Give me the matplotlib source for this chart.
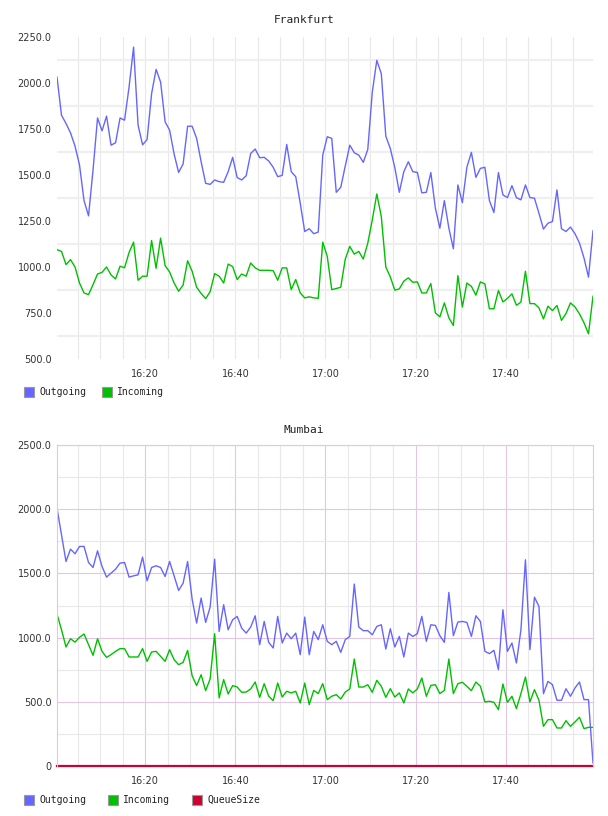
import numpy as np
import pandas as pd
import matplotlib
matplotlib.use('Agg')
import matplotlib.pyplot as plt
import matplotlib.dates as mdates
from matplotlib.ticker import FixedLocator, FuncFormatter
from matplotlib.patches import Rectangle

# one sample per minute, 16:00 -> 18:00
times = pd.date_range('2024-01-01 16:00:24', periods=120, freq='60s')

fra_outgoing = [
    2032, 1825, 1780, 1729, 1657, 1554, 1361, 1278, 1527, 1810,
    1740, 1820, 1662, 1675, 1810, 1798, 1978, 2195, 1771, 1664,
    1693, 1942, 2074, 2005, 1789, 1744, 1614, 1514, 1560, 1765,
    1765, 1699, 1572, 1455, 1449, 1473, 1464, 1460, 1518, 1596,
    1486, 1473, 1496, 1617, 1641, 1594, 1596, 1576, 1542, 1491,
    1498, 1666, 1518, 1491, 1347, 1193, 1208, 1181, 1190, 1608,
    1708, 1699, 1406, 1433, 1549, 1662, 1621, 1608, 1569, 1639,
    1951, 2123, 2051, 1711, 1644, 1540, 1406, 1518, 1572, 1518,
    1514, 1403, 1406, 1513, 1320, 1211, 1361, 1211, 1099, 1446,
    1350, 1542, 1623, 1487, 1536, 1542, 1361, 1296, 1513, 1392,
    1377, 1442, 1377, 1365, 1446, 1377, 1374, 1292, 1206, 1238,
    1247, 1419, 1208, 1193, 1217, 1181, 1130, 1049, 945, 1197,
]
fra_incoming = [
    1094, 1085, 1013, 1040, 1000, 913, 859, 850, 904, 962,
    971, 1000, 957, 935, 1004, 996, 1079, 1135, 928, 950,
    950, 1144, 993, 1157, 1008, 973, 913, 868, 902, 1034,
    977, 890, 856, 828, 866, 964, 950, 913, 1016, 1002,
    932, 962, 950, 1022, 995, 982, 982, 982, 980, 928,
    995, 995, 877, 932, 859, 832, 838, 832, 830, 1135,
    1058, 877, 883, 890, 1043, 1112, 1070, 1085, 1043, 1130,
    1256, 1397, 1274, 1000, 946, 874, 881, 923, 941, 917,
    919, 859, 859, 910, 751, 729, 805, 724, 682, 953,
    783, 913, 895, 847, 919, 908, 773, 773, 872, 810,
    829, 854, 792, 809, 977, 801, 801, 778, 718, 787,
    763, 791, 710, 747, 805, 783, 745, 697, 637, 841,
]

mum_outgoing = [
    2008, 1800, 1593, 1689, 1653, 1710, 1710, 1585, 1546, 1676,
    1554, 1471, 1502, 1533, 1580, 1585, 1471, 1481, 1489, 1627,
    1442, 1546, 1559, 1546, 1476, 1593, 1481, 1367, 1424, 1593,
    1300, 1113, 1308, 1118, 1238, 1611, 1048, 1256, 1061, 1139,
    1165, 1074, 1035, 1082, 1170, 945, 1126, 963, 919, 1165,
    958, 1035, 991, 1035, 867, 1160, 867, 1048, 984, 1100,
    971, 945, 971, 885, 984, 1009, 1417, 1082, 1054, 1054,
    1022, 1087, 1100, 911, 1069, 927, 1009, 849, 1035, 1009,
    1030, 1165, 971, 1100, 1095, 1015, 963, 1352, 1015, 1121,
    1126, 1118, 1009, 1170, 1126, 893, 875, 901, 750, 1217,
    893, 958, 802, 1061, 1606, 906, 1315, 1243, 563, 659,
    633, 512, 512, 602, 543, 608, 654, 517, 517, 24,
]
mum_incoming = [
    1183, 1061, 927, 991, 965, 1002, 1028, 945, 862, 991,
    893, 846, 867, 893, 914, 914, 849, 849, 849, 914,
    815, 888, 893, 854, 815, 906, 828, 789, 807, 900,
    703, 626, 711, 587, 678, 1030, 530, 673, 561, 626,
    615, 574, 576, 600, 654, 535, 641, 543, 509, 646,
    537, 582, 569, 582, 491, 646, 478, 589, 564, 641,
    517, 543, 556, 522, 576, 600, 833, 615, 615, 633,
    574, 667, 621, 535, 602, 537, 569, 491, 600, 569,
    600, 685, 543, 628, 633, 564, 589, 833, 564, 641,
    652, 621, 587, 654, 621, 499, 504, 496, 439, 639,
    496, 543, 447, 564, 693, 499, 595, 512, 309, 361,
    361, 296, 296, 353, 309, 343, 379, 291, 301, 301,
]
mum_queue = [0] * 120

BLUE = '#6666ff'
GREEN = '#00c000'
RED = '#cc0033'
GRID = '#e8e8e8'
PINK = '#e2c6e2'
TXT = '#333333'

fig = plt.figure(figsize=(6.08, 8.16), dpi=100)
W, H = 608.0, 816.0


def box(l, t, r, b):
    return [l / W, 1 - b / H, (r - l) / W, (b - t) / H]


def style(ax, yfmt):
    ax.set_xlim(times[0], times[-1])
    ax.xaxis.set_major_locator(mdates.MinuteLocator(byminute=[0, 20, 40]))
    ax.xaxis.set_minor_locator(mdates.MinuteLocator(byminute=range(0, 60, 5)))
    ax.xaxis.set_major_formatter(mdates.DateFormatter('%H:%M'))
    ax.yaxis.set_major_formatter(FuncFormatter(yfmt))
    ax.tick_params(which='both', length=0, labelsize=7, labelcolor=TXT)
    ax.tick_params(axis='x', pad=7)
    ax.tick_params(axis='y', pad=4)
    ax.set_axisbelow(True)


def legend(y, items):
    for x, color, name in items:
        fig.add_artist(Rectangle((x / W, 1 - (y + 5) / H), 10 / W, 10 / H,
                                 transform=fig.transFigure, facecolor=color,
                                 edgecolor='#999999', lw=0.8))
        fig.text((x + 15) / W, 1 - y / H, name, family='DejaVu Sans Mono',
                 fontsize=7, color='#222222', va='center')


# Frankfurt
ax1 = fig.add_axes(box(57, 37, 593, 359))
ax1.plot(times, fra_outgoing, color=BLUE, lw=1.0)
ax1.plot(times, fra_incoming, color=GREEN, lw=1.0)
ax1.set_ylim(500, 2250)
ax1.set_yticks(np.arange(500, 2251, 250))
ax1.yaxis.set_minor_locator(FixedLocator(np.arange(625, 2250, 250)))
style(ax1, lambda v, p: '%.1f' % v)
ax1.grid(True, axis='x', which='both', color=GRID, lw=0.8)
ax1.grid(True, axis='y', which='minor', color='#efefef', lw=1.6)
for s in ax1.spines.values():
    s.set_visible(False)
fig.text(304 / W, 1 - 20 / H, 'Frankfurt', family='DejaVu Sans Mono',
         fontsize=8, color='#222222', ha='center', va='center')
legend(392, [(24, BLUE, 'Outgoing'), (102, GREEN, 'Incoming')])

# Mumbai
ax2 = fig.add_axes(box(57, 445, 593, 766))
ax2.plot(times, mum_outgoing, color=BLUE, lw=1.0)
ax2.plot(times, mum_incoming, color=GREEN, lw=1.0)
ax2.plot(times, mum_queue, color=RED, lw=1.6, clip_on=False)
ax2.set_ylim(0, 2500)
ax2.set_yticks(np.arange(0, 2501, 500))
ax2.yaxis.set_minor_locator(FixedLocator(np.arange(250, 2500, 500)))
style(ax2, lambda v, p: '0' if v == 0 else '%.1f' % v)
ax2.grid(True, axis='x', which='minor', color=GRID, lw=0.8)
ax2.grid(True, axis='y', which='minor', color=GRID, lw=0.8)
ax2.grid(True, axis='both', which='major', color=PINK, lw=0.8)
for name, s in ax2.spines.items():
    s.set_color(PINK)
    s.set_linewidth(0.8)
ax2.spines['bottom'].set_visible(False)
fig.text(304 / W, 1 - 430 / H, 'Mumbai', family='DejaVu Sans Mono',
         fontsize=8, color='#222222', ha='center', va='center')
legend(800, [(24, BLUE, 'Outgoing'), (108, GREEN, 'Incoming'), (192, RED, 'QueueSize')])

fig.savefig('out.png', dpi=100)
